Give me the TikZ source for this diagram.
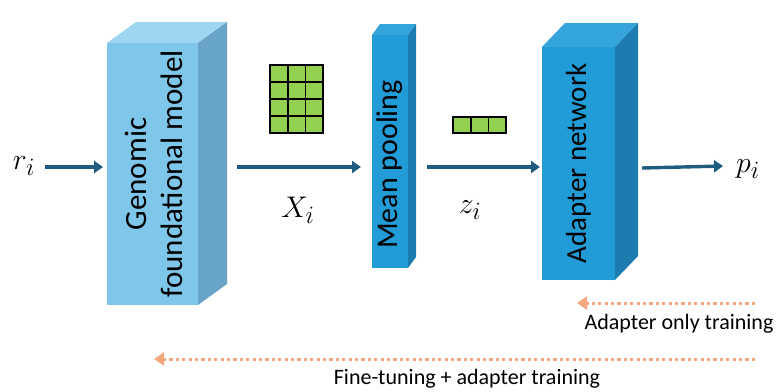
\documentclass[tikz,border=0pt]{standalone}
\usepackage{fontspec}
\setmainfont{Carlito}
\usetikzlibrary{arrows.meta}

\definecolor{gfmFront}{RGB}{126,198,234}
\definecolor{gfmTop}{RGB}{158,214,242}
\definecolor{gfmSide}{RGB}{104,163,200}
\definecolor{blkFront}{RGB}{33,156,214}
\definecolor{blkTop}{RGB}{52,165,220}
\definecolor{blkSide}{RGB}{28,124,176}
\definecolor{flow}{RGB}{31,92,128}
\definecolor{train}{RGB}{244,168,128}
\definecolor{cellgreen}{RGB}{146,208,80}

\tikzset{
  face/.style={draw=none, inner sep=0pt, outer sep=0pt},
  boxlabel/.style={rotate=90, align=center, inner sep=0pt},
  flowarrow/.style={draw=flow, line width=3.4pt, -{Triangle[length=9pt,width=12pt]}},
  trainarrow/.style={draw=train, line width=3pt, dash pattern=on 3.2pt off 3.2pt,
    -{Triangle[length=10pt,width=13pt]}},
  mathlabel/.style={font=\fontsize{24.88}{28}\selectfont, scale=1.2, inner sep=0pt},
  caption/.style={font=\fontsize{22}{24}\selectfont, inner sep=0pt},
  cell/.style={draw=black, line width=1.6pt, fill=cellgreen, minimum width=17.7pt,
    minimum height=17pt, inner sep=0pt, outer sep=0pt},
}

% front face node + top and side faces of a box
\newcommand{\cuboidfaces}[5]{%
  \fill[#4] (#1.north west) -- ++(#2,#3) -- ([shift={(#2,#3)}]#1.north east)
    -- (#1.north east) -- cycle;
  \fill[#5] (#1.north east) -- ([shift={(#2,#3)}]#1.north east)
    -- ([shift={(#2,#3)}]#1.south east) -- (#1.south east) -- cycle;
}

\begin{document}
\begin{tikzpicture}[x=1pt,y=-1pt]
  \useasboundingbox (0,0) rectangle (776,391);

  % Genomic foundational model
  \node[face, fill=gfmFront, minimum width=91pt, minimum height=262pt] (gfm) at (152.5,174) {};
  \cuboidfaces{gfm}{29}{-21}{gfmTop}{gfmSide}
  \node[boxlabel, font=\fontsize{31}{36}\selectfont] (gfmtxt) at ([shift={(1,0)}]gfm.center) {Genomic\\foundational model};

  % Mean pooling
  \node[face, fill=blkFront, minimum width=36pt, minimum height=233pt] (mp) at (390,151.5) {};
  \cuboidfaces{mp}{8}{-11}{blkTop}{blkSide}
  \node[boxlabel, font=\fontsize{30}{32}\selectfont] (mptxt) at ([shift={(0,13)}]mp.center) {Mean pooling};

  % Adapter network
  \node[face, fill=blkFront, minimum width=73pt, minimum height=233pt] (ad) at (578.5,163.5) {};
  \cuboidfaces{ad}{23}{-24}{blkTop}{blkSide}
  \node[boxlabel, font=\fontsize{29}{31}\selectfont] (adtxt) at (ad.center) {Adapter network};

  % inputs, embeddings and outputs
  \node[mathlabel] (r) at (24,166) {$r_i$};
  \node[mathlabel] (X) at (298,210) {$X_i$};
  \node[mathlabel] (z) at (470,210) {$z_i$};
  \node[mathlabel] (p) at (748,169) {$p_i$};

  \coordinate (rEnd) at (45,167);
  \coordinate (gfmIn) at (103,167);
  \coordinate (gfmOut) at (237,167);
  \coordinate (mpIn) at (361,167);
  \coordinate (mpOut) at (427,167);
  \coordinate (adIn) at (540,167);
  \coordinate (adOut) at (642,168);
  \coordinate (pIn) at (723,166);

  \draw[flowarrow] (rEnd) -- (gfmIn);
  \draw[flowarrow] (gfmOut) -- (mpIn);
  \draw[flowarrow] (mpOut) -- (adIn);
  \draw[flowarrow] (adOut) -- (pIn);

  % token embedding matrix X_i (4 x 3)
  \foreach \r in {0,...,3}{
    \foreach \c in {0,...,2}{
      \node[cell] (x\r\c) at ({279+17.7*\c},{73.5+17*\r}) {};
    }
  }
  % pooled vector z_i (1 x 3)
  \foreach \c in {0,...,2}{
    \node[cell, minimum height=16pt] (z\c) at ({462+17.7*\c},125) {};
  }

  % training regimes
  \coordinate (aoStart) at (755,303);
  \coordinate (aoEnd) at (577,303);
  \draw[trainarrow] (aoStart) -- (aoEnd);
  \node[caption] (aolbl) at (679,324) {Adapter only training};

  \coordinate (ftStart) at (755,359);
  \coordinate (ftEnd) at (154,359);
  \draw[trainarrow] (ftStart) -- (ftEnd);
  \node[caption] (ftlbl) at (467,379) {Fine-tuning + adapter training};
\end{tikzpicture}
\end{document}
